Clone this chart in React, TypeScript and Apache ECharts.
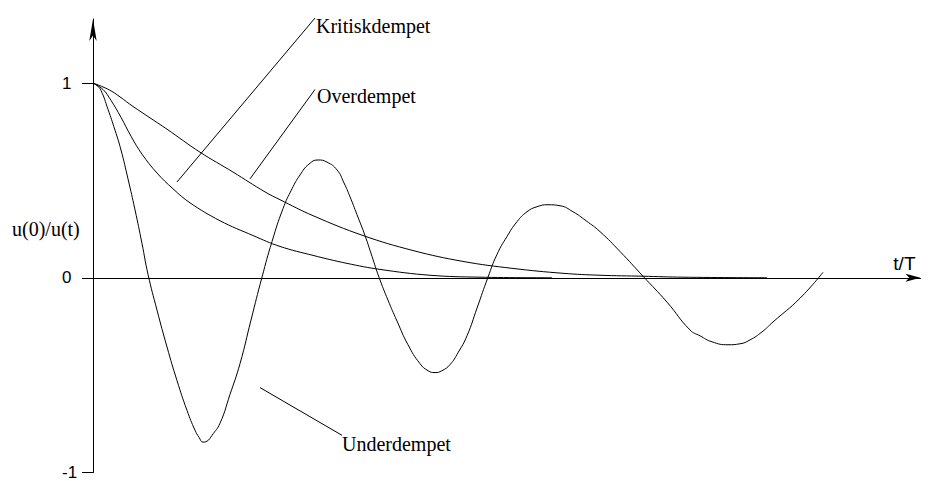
import React, { useEffect, useRef } from "react";
import * as echarts from "echarts";

// t/T values and u(0)/u(t) values
const underT = [0, 0.04, 0.08, 0.15, 0.22, 0.28, 0.35, 0.42, 0.49, 0.55, 0.64, 0.74, 0.84, 0.94, 1.02, 1.06, 1.1, 1.14, 1.19, 1.27, 1.37, 1.47, 1.58, 1.69, 1.79, 1.9, 1.99, 2.07, 2.16, 2.25, 2.34, 2.44, 2.51, 2.57, 2.64, 2.72, 2.79, 2.86, 2.95, 3.04, 3.15, 3.27, 3.35, 3.42, 3.49, 3.57, 3.65, 3.74, 3.84, 3.95, 4.04, 4.14, 4.24, 4.34, 4.44, 4.55, 4.67, 4.8, 4.93, 5.07, 5.27, 5.5, 5.74, 5.97, 6.07, 6.19, 6.35, 6.47, 6.57, 6.69, 6.8, 7.07, 7.3];
const underY = [1, 0.987, 0.962, 0.865, 0.758, 0.656, 0.508, 0.349, 0.176, 0.018, -0.166, -0.355, -0.528, -0.681, -0.783, -0.819, -0.844, -0.839, -0.809, -0.747, -0.599, -0.441, -0.217, 0.003, 0.186, 0.355, 0.457, 0.528, 0.584, 0.605, 0.594, 0.554, 0.487, 0.416, 0.324, 0.217, 0.11, 0.003, -0.115, -0.222, -0.344, -0.441, -0.477, -0.487, -0.477, -0.446, -0.385, -0.298, -0.156, 0.003, 0.12, 0.212, 0.288, 0.339, 0.365, 0.375, 0.37, 0.339, 0.293, 0.237, 0.135, 0.008, -0.125, -0.268, -0.298, -0.329, -0.344, -0.339, -0.319, -0.278, -0.227, -0.105, 0.028];

const critT = [0, 0.1, 0.18, 0.28, 0.38, 0.49, 0.64, 0.8, 0.97, 1.27, 1.6, 1.87, 2.2, 2.54, 2.87, 3.37, 3.87, 4.59];
const critY = [1, 0.967, 0.911, 0.824, 0.727, 0.635, 0.538, 0.457, 0.385, 0.293, 0.217, 0.161, 0.115, 0.074, 0.043, 0.013, 0.003, 0];

const overT = [0, 0.1, 0.19, 0.27, 0.4, 0.74, 1.07, 1.4, 1.72, 1.87, 2.2, 2.7, 3.2, 3.7, 4.2, 4.7, 5.07, 5.5, 5.9, 6.74];
const overY = [1, 0.98, 0.957, 0.929, 0.88, 0.763, 0.645, 0.543, 0.441, 0.401, 0.319, 0.217, 0.14, 0.084, 0.048, 0.023, 0.013, 0.008, 0.003, 0];

const yTicks = [-1, 0, 1];
const xMin = 0;
const xMax = 8.275;
const yMin = -1;
const yMax = 1.329;

const yAxisTitle = "u(0)/u(t)";
const xAxisTitle = "t/T";

// annotation labels: text, leader line start, leader line end, text anchor (data units)
const labelNames = ["Kritiskdempet", "Overdempet", "Underdempet"];
const leaderFrom = [[0.84, 0.492], [1.57, 0.508], [1.67, -0.564]];
const leaderTo = [[2.22, 1.334], [2.22, 0.967], [2.49, -0.809]];
const labelAt = [[2.23, 1.293], [2.24, 0.931], [2.49, -0.855]];

const zip = (t: number[], y: number[]) => t.map((v, i) => [v, y[i]]);

export default function App() {
  const ref = useRef<HTMLDivElement>(null);
  useEffect(() => {
    if (!ref.current) return;
    const chart = echarts.init(ref.current, null, { renderer: "svg" });
    const lineSeries = (name: string, data: number[][], smooth: number) => ({
      name,
      type: "line",
      data,
      showSymbol: false,
      symbol: "none",
      smooth,
      clip: false,
      lineStyle: { color: "#000", width: 1 },
      silent: true,
    });
    chart.setOption({
      animation: false,
      backgroundColor: "#fff",
      grid: { left: 93, right: 7.5, top: 19, bottom: 5.5, containLabel: false },
      xAxis: {
        type: "value",
        min: xMin,
        max: xMax,
        axisLine: {
          onZero: true,
          symbol: ["none", "arrow"],
          symbolSize: [6, 15],
          lineStyle: { color: "#000", width: 1 },
        },
        axisTick: { show: false },
        axisLabel: { show: false },
        splitLine: { show: false },
      },
      yAxis: {
        type: "value",
        min: yMin,
        max: yMax,
        axisLine: {
          show: true,
          onZero: false,
          symbol: ["none", "arrow"],
          symbolSize: [5.5, 22],
          lineStyle: { color: "#000", width: 1 },
        },
        axisTick: {
          show: true,
          customValues: yTicks,
          length: 11,
          lineStyle: { color: "#000", width: 1 },
        },
        axisLabel: {
          show: true,
          customValues: yTicks,
          align: "left",
          margin: 31,
          color: "#000",
          fontFamily: "Liberation Sans",
          fontSize: 17,
        },
        splitLine: { show: false },
      },
      series: [
        lineSeries("Underdempet", zip(underT, underY), 0.5),
        lineSeries("Kritiskdempet", zip(critT, critY), 0.4),
        lineSeries("Overdempet", zip(overT, overY), 0.4),
      ],
    });

    const px = (p: number[]) => chart.convertToPixel({ gridIndex: 0 }, p) as number[];
    const graphics: any[] = [];
    labelNames.forEach((name, i) => {
      const a = px(leaderFrom[i]);
      const b = px(leaderTo[i]);
      const t = px(labelAt[i]);
      graphics.push({
        type: "line",
        shape: { x1: a[0], y1: a[1], x2: b[0], y2: b[1] },
        style: { stroke: "#000", lineWidth: 1 },
        silent: true,
      });
      graphics.push({
        type: "text",
        x: t[0],
        y: t[1],
        style: {
          text: name,
          fill: "#000",
          font: '20px "Liberation Serif"',
          textAlign: "left",
          textVerticalAlign: "middle",
        },
        silent: true,
      });
    });
    graphics.push({
      type: "text",
      x: 12,
      y: 229,
      style: {
        text: yAxisTitle,
        fill: "#000",
        font: '20px "Liberation Serif"',
        textAlign: "left",
        textVerticalAlign: "middle",
      },
      silent: true,
    });
    const tEnd = px([xMax, 0]);
    graphics.push({
      type: "text",
      x: tEnd[0] - 5,
      y: tEnd[1] - 14,
      style: {
        text: xAxisTitle,
        fill: "#000",
        font: '19px "Liberation Sans"',
        textAlign: "right",
        textVerticalAlign: "middle",
      },
      silent: true,
    });
    chart.setOption({ graphic: graphics });
    return () => chart.dispose();
  }, []);
  return (
    <div
      ref={ref}
      style={{ position: "absolute", left: 0, top: 0, width: 928, height: 481, background: "#fff" }}
    />
  );
}
